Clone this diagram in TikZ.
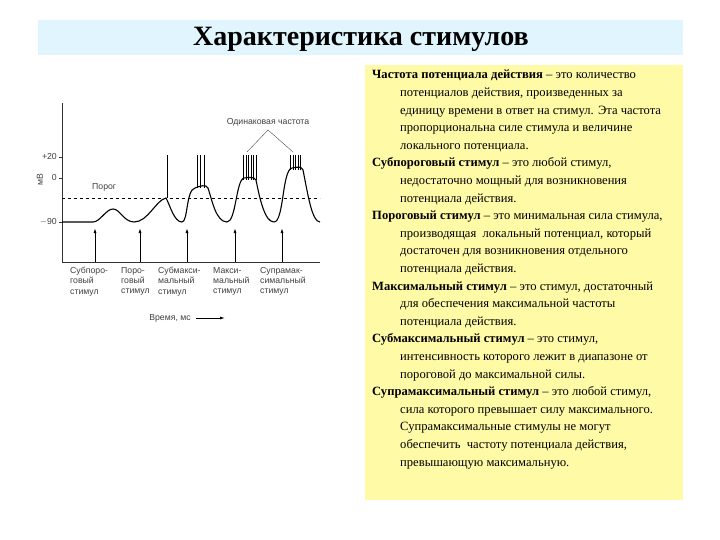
\documentclass[tikz,border=0pt]{standalone}
\usepackage{fontspec}
\setmainfont{Liberation Serif}
\newfontfamily\chartfont{Liberation Sans}
\usetikzlibrary{arrows.meta}
\begin{document}
\begin{tikzpicture}[x=1pt,y=-1pt,
  lbl/.style={font=\chartfont\fontsize{8.7}{10.3}\selectfont,text=black!75,align=left,anchor=north west,inner sep=0pt},
  stim/.style={-{Latex[length=5pt,width=3pt]},line width=0.9pt},
  trace/.style={line width=1.1pt},
  spk/.style={line width=0.9pt}]
\useasboundingbox (0,0) rectangle (720,540);
\fill[white] (0,0) rectangle (720,540);
% title band
\fill[cyan!12] (38,20) rectangle (683,55);
\node (title) at (361,39) {\fontsize{28}{30}\selectfont\bfseries Характеристика стимулов};
% yellow box
\fill[yellow!35] (365,65) rectangle (683,500);
\node[anchor=north west,align=left,inner sep=0pt,font=\fontsize{12.6}{17.6}\selectfont] (txt) at (372,70) {%
\textbf{Частота потенциала действия} – это количество\\
\hspace*{28pt}потенциалов действия, произведенных за\\
\hspace*{28pt}единицу времени в ответ на стимул. Эта частота\\
\hspace*{28pt}пропорциональна силе стимула и величине\\
\hspace*{28pt}локального потенциала.\\
\textbf{Субпороговый стимул} – это любой стимул,\\
\hspace*{28pt}недостаточно мощный для возникновения\\
\hspace*{28pt}потенциала действия.\\
\textbf{Пороговый стимул} – это минимальная сила стимула,\\
\hspace*{28pt}производящая\ \ локальный потенциал, который\\
\hspace*{28pt}достаточен для возникновения отдельного\\
\hspace*{28pt}потенциала действия.\\
\textbf{Максимальный стимул} – это стимул, достаточный\\
\hspace*{28pt}для обеспечения максимальной частоты\\
\hspace*{28pt}потенциала действия.\\
\textbf{Субмаксимальный стимул} – это стимул,\\
\hspace*{28pt}интенсивность которого лежит в диапазоне от\\
\hspace*{28pt}пороговой до максимальной силы.\\
\textbf{Супрамаксимальный стимул} – это любой стимул,\\
\hspace*{28pt}сила которого превышает силу максимального.\\
\hspace*{28pt}Супрамаксимальные стимулы не могут\\
\hspace*{28pt}обеспечить\ \ частоту потенциала действия,\\
\hspace*{28pt}превышающую максимальную.};
% axes
\draw[line width=0.8pt,black!80] (62,103) -- (62,262) -- (320,262);
\foreach \y/\t in {157/+20,178/0,222/$-$90}{
  \draw[black!80] (59,\y) -- (62,\y);
  \node[lbl,anchor=east] at (57,\y) {\t};}
\node[lbl,rotate=90,anchor=center] (mv) at (40,180) {мВ};
\draw[dashed,line width=0.9pt] (62,198) -- (320,198);
\node[lbl] (porog) at (92,183) {Порог};
% trace
\draw[trace] (62,222) -- (93,222)
  .. controls (100,222) and (106,209) .. (113,209)
  .. controls (120,209) and (124,222) .. (134,222)
  .. controls (148,222) and (156,200) .. (166,198)
  .. controls (170,205) and (174,222) .. (182,222)
  .. controls (188,222) and (186,190) .. (195,188)
  .. controls (200,186) and (206,184) .. (208,188)
  .. controls (212,200) and (216,222) .. (227,222)
  .. controls (236,222) and (236,180) .. (244,178)
  .. controls (250,177) and (254,177) .. (256,180)
  .. controls (260,200) and (265,222) .. (274,222)
  .. controls (284,222) and (282,170) .. (292,168)
  .. controls (298,167) and (301,166) .. (303,170)
  .. controls (308,195) and (312,222) .. (320,222);
\draw[spk] (167,198) -- (167,155);
\foreach \x in {197,200.5,204}{\draw[spk] (\x,188) -- (\x,155);}
\foreach \x in {243.5,246,248.5,251,253.5,256}{\draw[spk] (\x,180) -- (\x,155);}
\foreach \x in {290.5,293,295.5,298,300.5}{\draw[spk] (\x,170) -- (\x,155);}
% same frequency label
\node[lbl,anchor=center] (same) at (268,122) {Одинаковая частота};
\coordinate (apex) at (268,130);
\draw[black!70] (247,152) -- (apex) -- (293,152);
% stimuli
\foreach \x in {95,140,187,235,282}{\draw[stim] (\x,262) -- (\x,228);}
\node[lbl] (s1) at (70,267) {Субпоро-\\говый\\стимул};
\node[lbl] (s2) at (121,267) {Поро-\\говый\\стимул};
\node[lbl] (s3) at (158,267) {Субмакси-\\мальный\\стимул};
\node[lbl] (s4) at (213,267) {Макси-\\мальный\\стимул};
\node[lbl] (s5) at (260,267) {Супрамак-\\симальный\\стимул};
\node[lbl,anchor=center] (time) at (170,318) {Время, мс};
\coordinate (ta) at (196,318);
\coordinate (tb) at (225,318);
\draw[-{Latex[length=5pt,width=3pt]},line width=0.8pt] (ta) -- (tb);
\end{tikzpicture}
\end{document}
